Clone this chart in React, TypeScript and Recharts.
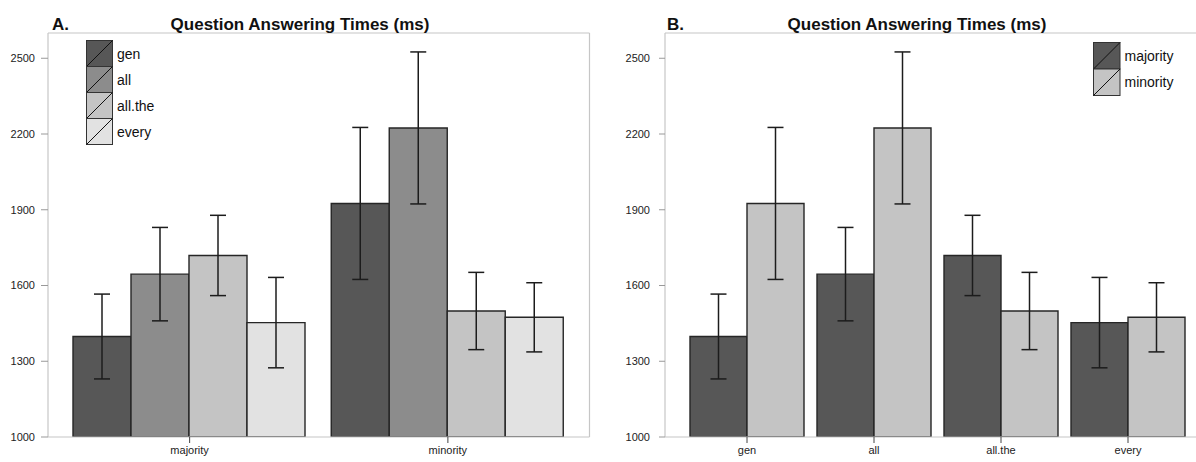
import React from 'react';
import { BarChart, Bar, XAxis, YAxis, ErrorBar, Legend } from 'recharts';

// values (ms)
const groups = ['majority', 'minority'];
const conditions = ['gen', 'all', 'all.the', 'every'];
const majorityMeans = [1398, 1645, 1719, 1453];
const minorityMeans = [1925, 2224, 1499, 1474];
const majorityErr = [168, 185, 159, 179];
const minorityErr = [301, 301, 153, 137];
const yTicks = [1000, 1300, 1600, 1900, 2200, 2500];
const yDomain = [1000, 2600];

const conditionColors = ['#575757', '#8c8c8c', '#c4c4c4', '#e2e2e2'];
const groupColors = ['#575757', '#c4c4c4'];

const FONT = '"Liberation Sans", Arial, Helvetica, sans-serif';
const FRAME = '#c6c6c6';
const BAR_STROKE = '#262626';
const ERR_STROKE = '#1c1c1c';

const meansByGroup = [majorityMeans, minorityMeans];
const errByGroup = [majorityErr, minorityErr];

// panel A: one row per group, one bar per condition
const dataA = groups.map((g, gi) => {
  const row: Record<string, string | number> = { name: g };
  conditions.forEach((_, ci) => {
    row['c' + ci] = meansByGroup[gi][ci];
    row['ce' + ci] = errByGroup[gi][ci];
  });
  return row;
});

// panel B: one row per condition, one bar per group
const dataB = conditions.map((c, ci) => {
  const row: Record<string, string | number> = { name: c };
  groups.forEach((_, gi) => {
    row['g' + gi] = meansByGroup[gi][ci];
    row['ge' + gi] = errByGroup[gi][ci];
  });
  return row;
});

const BoxLegend = ({ labels, colors, cell }: { labels: string[]; colors: string[]; cell: number }) => (
  <svg width={cell + 70} height={labels.length * cell + 2} style={{ display: 'block', overflow: 'visible' }}>
    {labels.map((label, i) => (
      <g key={label}>
        <rect x={0.5} y={0.5 + i * cell} width={cell} height={cell} fill={colors[i]} stroke="#333" strokeWidth={1} />
        <line x1={0.5} y1={0.5 + (i + 1) * cell} x2={0.5 + cell} y2={0.5 + i * cell} stroke="#111" strokeWidth={1} />
        <text
          x={cell + 5}
          y={0.5 + i * cell + cell / 2 + 5}
          fontSize={14}
          fontFamily={FONT}
          fill="#111"
        >
          {label}
        </text>
      </g>
    ))}
  </svg>
);

const tickStyle = { fill: '#222', fontSize: 11, fontFamily: FONT };

const App: React.FC = () => {
  return (
    <div
      style={{
        position: 'fixed',
        left: 0,
        top: 0,
        width: 1196,
        height: 462,
        overflow: 'hidden',
        background: '#fff',
        fontFamily: FONT,
      }}
    >
      {/* Panel A */}
      <div style={{ position: 'absolute', left: 0, top: 0 }}>
        <BarChart
          width={600}
          height={462}
          data={dataA}
          margin={{ top: 0, right: 0, bottom: 0, left: 0 }}
          barGap={0}
          barCategoryGap={12.5}
        >
          <XAxis
            dataKey="name"
            height={25}
            padding={{ left: 12.5, right: 12.5 }}
            tickSize={6}
            tickMargin={3}
            axisLine={{ stroke: FRAME, strokeWidth: 1.2 }}
            tickLine={{ stroke: '#444' }}
            tick={tickStyle}
          />
          <XAxis xAxisId="top" orientation="top" height={33} tick={false} tickLine={false} axisLine={{ stroke: FRAME, strokeWidth: 1.2 }} />
          <YAxis
            domain={yDomain}
            ticks={yTicks}
            allowDataOverflow
            width={48}
            tickSize={7}
            tickMargin={6}
            axisLine={{ stroke: FRAME, strokeWidth: 1.2 }}
            tickLine={{ stroke: '#999' }}
            tick={tickStyle}
          />
          <YAxis yAxisId="right" orientation="right" width={10.5} domain={yDomain} tick={false} tickLine={false} axisLine={{ stroke: FRAME, strokeWidth: 1.2 }} />
          <Legend
            layout="vertical"
            align="center"
            verticalAlign="middle"
            wrapperStyle={{ left: 86, top: 40, width: 'auto', height: 'auto' }}
            content={<BoxLegend labels={conditions} colors={conditionColors} cell={26} />}
          />
          {conditions.map((c, ci) => (
            <Bar
              key={c}
              dataKey={'c' + ci}
              name={c}
              fill={conditionColors[ci]}
              stroke={BAR_STROKE}
              strokeWidth={1.4}
              isAnimationActive={false}
            >
              <ErrorBar dataKey={'ce' + ci} width={8} stroke={ERR_STROKE} strokeWidth={1.5} isAnimationActive={false} />
            </Bar>
          ))}
        </BarChart>
      </div>

      {/* Panel B */}
      <div style={{ position: 'absolute', left: 600, top: 0 }}>
        <BarChart
          width={620}
          height={462}
          data={dataB}
          margin={{ top: 0, right: 0, bottom: 0, left: 0 }}
          barGap={0}
          barCategoryGap={6.5}
        >
          <XAxis
            dataKey="name"
            height={25}
            padding={{ left: 18.5, right: 18.5 }}
            tickSize={6}
            tickMargin={3}
            axisLine={{ stroke: FRAME, strokeWidth: 1.2 }}
            tickLine={{ stroke: '#444' }}
            tick={tickStyle}
          />
          <XAxis xAxisId="top" orientation="top" height={33} tick={false} tickLine={false} axisLine={{ stroke: FRAME, strokeWidth: 1.2 }} />
          <YAxis
            domain={yDomain}
            ticks={yTicks}
            allowDataOverflow
            width={65}
            tickSize={6}
            tickMargin={9}
            axisLine={{ stroke: FRAME, strokeWidth: 1.2 }}
            tickLine={{ stroke: '#999' }}
            tick={tickStyle}
          />
          <YAxis yAxisId="right" orientation="right" width={10} domain={yDomain} tick={false} tickLine={false} axisLine={{ stroke: FRAME, strokeWidth: 1.2 }} />
          <Legend
            layout="vertical"
            align="center"
            verticalAlign="middle"
            wrapperStyle={{ left: 493, top: 42, width: 'auto', height: 'auto' }}
            content={<BoxLegend labels={groups} colors={groupColors} cell={26.5} />}
          />
          {groups.map((g, gi) => (
            <Bar
              key={g}
              dataKey={'g' + gi}
              name={g}
              fill={groupColors[gi]}
              stroke={BAR_STROKE}
              strokeWidth={1.4}
              isAnimationActive={false}
            >
              <ErrorBar dataKey={'ge' + gi} width={8} stroke={ERR_STROKE} strokeWidth={1.5} isAnimationActive={false} />
            </Bar>
          ))}
        </BarChart>
      </div>

      {/* panel titles */}
      <svg width={1196} height={40} style={{ position: 'absolute', left: 0, top: 0, pointerEvents: 'none' }}>
        <text x={52} y={29.5} fontSize={17} fontWeight="bold" fontFamily={FONT} fill="#111">A.</text>
        <text x={300} y={29.5} fontSize={17} fontWeight="bold" fontFamily={FONT} fill="#111" textAnchor="middle">
          Question Answering Times (ms)
        </text>
        <text x={667} y={29.5} fontSize={17} fontWeight="bold" fontFamily={FONT} fill="#111">B.</text>
        <text x={917} y={29.5} fontSize={17} fontWeight="bold" fontFamily={FONT} fill="#111" textAnchor="middle">
          Question Answering Times (ms)
        </text>
      </svg>
    </div>
  );
};

export default App;
